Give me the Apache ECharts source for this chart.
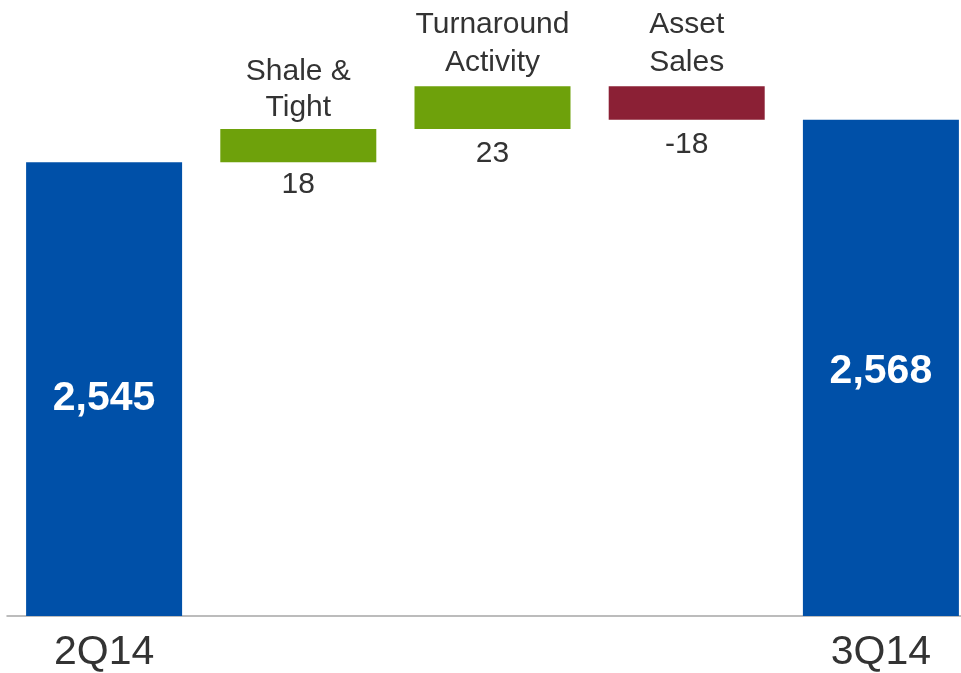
<!DOCTYPE html>
<html>
<head>
<meta charset="utf-8">
<script src="https://cdn.jsdelivr.net/npm/echarts@6/dist/echarts.min.js"></script>
<style>
  html, body { margin: 0; padding: 0; background: #ffffff; overflow: hidden; }
  /* the last bar runs slightly past the right edge of the page */
  #chart { width: 978px; height: 673px; }
</style>
</head>
<body>
<div id="chart"></div>
<script>
// Quarter-over-quarter bridge: opening total, drivers, closing total
const categories = ['2Q14', 'Shale &\nTight', 'Turnaround\nActivity', 'Asset\nSales', '3Q14'];
const openingTotal = 2545;
const drivers = [18, 23, -18];
const closingTotal = 2568;
const axisMin = 2300;
const axisMax = 2620;

const FONT = '"Liberation Sans", Arial, sans-serif';
const TEXT = '#333333';
const BLUE = '#0050A8';
const GREEN = '#6EA10B';
const RED = '#8B2035';

// Build the invisible base and the visible step for each bar
const baseData = [];
const stepData = [];
let running = openingTotal;

baseData.push({ value: 0, label: { show: false } });
stepData.push({
  value: openingTotal,
  itemStyle: { color: BLUE },
  label: {
    show: true, position: 'inside', offset: [0, 10],
    formatter: v => v.value.toLocaleString('en-US'),
    color: '#ffffff', fontWeight: 'bold', fontSize: 41, fontFamily: FONT
  }
});

drivers.forEach((d, i) => {
  const low = Math.min(running, running + d);
  baseData.push({
    value: low,
    label: {
      show: true, position: 'insideTop', distance: i === 0 ? 7 : 10,
      formatter: () => String(d),
      color: TEXT, fontSize: 30, fontFamily: FONT
    }
  });
  stepData.push({
    value: Math.abs(d),
    itemStyle: { color: d >= 0 ? GREEN : RED },
    label: {
      show: true, position: 'top', distance: i === 0 ? 3 : 5,
      formatter: () => categories[i + 1],
      color: TEXT, fontSize: 30, lineHeight: i === 0 ? 36 : 38, fontFamily: FONT
    }
  });
  running += d;
});

baseData.push({ value: 0, label: { show: false } });
stepData.push({
  value: closingTotal,
  itemStyle: { color: BLUE },
  label: {
    show: true, position: 'inside', offset: [0, 4],
    formatter: v => v.value.toLocaleString('en-US'),
    color: '#ffffff', fontWeight: 'bold', fontSize: 41, fontFamily: FONT
  }
});

const chart = echarts.init(document.getElementById('chart'), null, { renderer: 'canvas' });
chart.setOption({
  animation: false,
  backgroundColor: '#ffffff',
  grid: { left: 7, right: 0, top: 23.4, bottom: 56, containLabel: false },
  xAxis: {
    type: 'category',
    data: categories,
    axisLine: { show: true, lineStyle: { color: '#A6A6A6', width: 1.5 } },
    axisTick: { show: false },
    axisLabel: {
      interval: 0,
      margin: 16,
      formatter: (v, idx) => (idx === 0 || idx === categories.length - 1) ? v : '',
      color: TEXT, fontSize: 41, fontFamily: FONT
    }
  },
  yAxis: {
    type: 'value',
    min: axisMin,
    max: axisMax,
    show: false,
    splitLine: { show: false }
  },
  series: [
    {
      name: 'base',
      type: 'bar',
      stack: 'bridge',
      barWidth: 156,
      itemStyle: { color: 'transparent' },
      emphasis: { disabled: true },
      data: baseData
    },
    {
      name: 'step',
      type: 'bar',
      stack: 'bridge',
      barWidth: 156,
      emphasis: { disabled: true },
      data: stepData
    }
  ]
});
</script>
</body>
</html>
